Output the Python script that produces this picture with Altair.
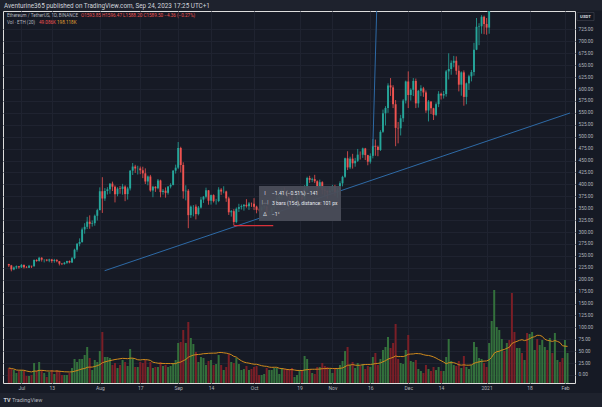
import altair as alt
import pandas as pd

# ---------------- data (ETH/USDT daily) ----------------
first_day = -5  # first candle = 2020-06-26, days counted from 2020-07-01

opens = [
    232.8, 229.9, 221.5, 225.6, 228.2,
    225.9, 231.0, 226.0, 225.2, 229.1, 227.9, 241.4, 239.2, 246.0, 241.9, 242.1, 240.1, 242.4, 239.2, 241.1, 238.7,
    233.6, 232.6, 235.6, 239.2, 236.2, 245.0, 262.8, 275.2, 279.1, 305.4, 310.9, 321.7, 317.1, 318.5, 334.0,
    345.9, 385.5, 370.3, 386.1, 389.6, 401.5, 395.1, 379.3, 391.1, 390.4, 395.3, 379.5, 391.4, 428.6, 437.3, 433.3,
    433.4, 429.5, 423.1, 406.0, 416.5, 387.1, 395.0, 391.7, 408.1, 383.7, 386.6, 382.2, 395.4, 398.8, 428.7,
    435.0, 476.3, 440.6, 385.5, 386.6, 335.4, 353.2, 353.3, 337.6, 351.3, 368.0, 374.2, 387.4, 365.6, 377.3,
    364.8, 365.0, 389.0, 384.9, 385.0, 370.5, 341.4, 343.7, 321.1, 348.6, 352.2, 354.1, 357.0, 354.1, 359.8,
    359.5, 353.2, 346.4, 346.2, 352.0, 353.6, 340.8, 341.6, 350.6, 365.1, 370.5, 375.0, 387.2, 381.2, 379.4, 377.2,
    366.2, 368.5, 377.0, 378.9, 368.2, 392.1, 413.4, 409.5, 411.0, 406.5, 393.0, 404.5, 388.6, 386.5, 383.0,
    386.6, 396.6, 383.2, 387.6, 402.1, 415.7, 454.6, 435.5, 453.9, 444.2, 449.4, 462.3, 462.1, 475.3, 461.3,
    447.5, 459.8, 480.9, 478.8, 472.1, 510.1, 549.1, 560.3, 607.6, 603.4, 568.1, 518.5, 517.6, 538.6, 575.8,
    615.8, 587.4, 598.4, 617.0, 569.9, 596.3, 601.3, 592.8, 555.0, 573.7, 559.6, 545.8, 568.2, 590.0, 586.4, 589.4,
    637.0, 642.0, 655.0, 659.3, 638.3, 609.1, 634.9, 583.5, 611.9, 626.6, 635.6, 682.6, 730.6, 731.6, 751.6,
    736.4, 728.9, 774.6, 978.3, 1041.4, 1099.6, 1208.1, 1225.7, 1224.9, 1281.6, 1262.5, 1090.1, 1043.4, 1130.7,
    1218.2, 1171.3, 1233.5, 1230.2, 1257.2, 1377.0, 1382.5, 1121.0, 1233.4, 1234.6, 1391.9, 1324.4, 1357.1,
    1253.2, 1332.5, 1382.3, 1376.1,
    1314.9, 1369.0,
]
highs = [
    233.2, 231.0, 227.6, 229.8, 228.9,
    232.8, 232.1, 228.4, 231.0, 229.3, 242.5, 242.9, 247.9, 247.1, 242.9, 242.8, 243.9, 243.6, 243.6, 243.2, 238.8,
    235.1, 237.3, 239.8, 240.4, 247.4, 265.0, 277.0, 286.7, 309.4, 318.5, 331.8, 334.9, 324.2, 336.6, 348.7,
    393.7, 415.0, 392.2, 394.1, 402.3, 405.7, 397.7, 394.0, 396.5, 401.0, 398.0, 394.8, 430.0, 444.8, 441.0, 439.0,
    437.4, 437.0, 433.5, 418.5, 419.9, 397.0, 396.0, 411.2, 409.7, 390.3, 393.5, 396.3, 402.4, 430.0, 441.3,
    488.8, 478.9, 446.2, 398.0, 390.0, 355.6, 356.5, 357.8, 354.5, 373.4, 375.5, 393.0, 388.0, 378.5, 379.0,
    369.6, 394.0, 392.1, 396.0, 386.6, 373.9, 346.2, 348.0, 351.5, 359.2, 357.7, 358.8, 368.9, 362.8, 361.8,
    371.0, 355.2, 349.0, 354.0, 356.3, 355.0, 344.0, 352.1, 368.0, 378.4, 377.7, 391.0, 393.7, 385.9, 383.0, 380.0,
    370.8, 380.0, 384.6, 381.2, 398.2, 416.0, 418.0, 414.0, 420.0, 408.4, 409.9, 406.5, 393.0, 387.0, 395.0,
    399.0, 399.0, 392.2, 406.5, 418.0, 456.0, 469.5, 458.0, 464.0, 455.6, 474.3, 469.0, 477.0, 476.5, 462.0,
    465.0, 495.0, 494.0, 481.5, 513.5, 556.9, 564.0, 612.0, 623.0, 608.0, 576.9, 530.8, 545.9, 578.8, 617.7,
    637.0, 601.5, 623.0, 622.0, 598.0, 608.0, 604.5, 597.0, 576.9, 574.0, 560.6, 572.0, 595.5, 592.5, 596.0, 640.0,
    675.0, 660.0, 669.5, 668.5, 649.5, 637.0, 639.0, 613.5, 630.0, 640.0, 697.0, 749.0, 738.0, 755.0, 754.0,
    749.0, 787.0, 1011.0, 1162.0, 1130.0, 1210.0, 1280.0, 1250.0, 1300.0, 1348.0, 1270.0, 1150.0, 1135.0, 1245.0,
    1250.0, 1265.0, 1260.0, 1268.0, 1410.0, 1440.0, 1383.0, 1253.0, 1260.0, 1400.0, 1466.0, 1377.0, 1362.0,
    1340.0, 1435.0, 1385.0, 1386.0,
    1380.0, 1540.0,
]
lows = [
    226.5, 217.5, 219.8, 222.1, 223.0,
    224.4, 223.4, 224.2, 224.4, 224.4, 227.4, 237.5, 237.7, 237.9, 236.1, 238.5, 236.6, 235.4, 235.6, 236.4, 229.8,
    230.6, 231.5, 233.2, 234.3, 235.1, 243.0, 258.6, 270.0, 277.4, 296.5, 306.2, 306.8, 311.4, 313.2, 324.1,
    345.5, 340.0, 365.3, 378.7, 380.2, 386.0, 362.1, 375.0, 380.3, 378.4, 364.7, 368.0, 387.2, 419.6, 424.0, 420.6,
    421.3, 413.0, 400.6, 398.0, 384.5, 373.0, 384.2, 389.5, 372.8, 378.5, 372.1, 378.5, 391.5, 397.8, 422.6,
    432.0, 425.0, 370.0, 366.4, 308.0, 329.6, 332.8, 326.4, 335.0, 349.2, 361.0, 370.4, 357.3, 357.5, 362.0,
    357.5, 362.6, 377.8, 381.2, 363.3, 335.8, 332.3, 314.2, 318.5, 342.0, 347.1, 344.8, 351.2, 346.3, 352.7,
    346.0, 339.2, 343.4, 343.9, 347.4, 336.2, 336.0, 334.9, 346.6, 363.2, 367.3, 368.3, 375.0, 373.5, 370.0, 361.0,
    363.5, 367.0, 371.0, 362.0, 364.0, 386.5, 403.0, 404.5, 402.6, 378.3, 391.5, 379.0, 375.0, 370.0, 380.7,
    384.0, 376.0, 372.0, 378.0, 395.8, 413.5, 430.0, 432.0, 433.0, 437.0, 447.0, 452.0, 455.5, 451.0, 440.0,
    443.5, 454.5, 460.0, 459.0, 470.0, 508.0, 523.5, 550.0, 585.5, 560.0, 480.0, 486.0, 502.5, 531.0, 569.7,
    560.0, 575.7, 585.2, 560.0, 561.0, 585.0, 583.6, 550.0, 532.0, 547.5, 535.0, 543.0, 562.0, 578.0, 580.0, 584.0,
    620.0, 630.0, 645.6, 630.0, 595.0, 586.0, 565.0, 568.0, 598.0, 616.0, 628.0, 681.6, 692.0, 716.0, 715.0,
    714.0, 716.0, 770.0, 890.0, 1000.0, 1095.0, 1170.0, 1150.0, 1170.0, 1160.0, 915.0, 1010.0, 1030.0, 1125.0,
    1130.0, 1160.0, 1180.0, 1200.0, 1250.0, 1300.0, 1110.0, 1110.0, 1200.0, 1225.0, 1300.0, 1260.0, 1220.0,
    1250.0, 1300.0, 1330.0, 1290.0,
    1305.0, 1360.0,
]
closes = [
    229.9, 221.5, 225.6, 228.2, 225.9,
    231.0, 226.0, 225.2, 229.1, 227.9, 241.4, 239.2, 246.0, 241.9, 242.1, 240.1, 242.4, 239.2, 241.1, 238.7,
    233.6, 232.6, 235.6, 239.2, 236.2, 245.0, 262.8, 275.2, 279.1, 305.4, 310.9, 321.7, 317.1, 318.5, 334.0, 345.9,
    385.5, 370.3, 386.1, 389.6, 401.5, 395.1, 379.3, 391.1, 390.4, 395.3, 379.5, 391.4, 428.6, 437.3, 433.3,
    433.4, 429.5, 423.1, 406.0, 416.5, 387.1, 395.0, 391.7, 408.1, 383.7, 386.6, 382.2, 395.4, 398.8, 428.7, 435.0,
    476.3, 440.6, 385.5, 386.6, 335.4, 353.2, 353.3, 337.6, 351.3, 368.0, 374.2, 387.4, 365.6, 377.3, 364.8,
    365.0, 389.0, 384.9, 385.0, 370.5, 341.4, 343.7, 321.1, 348.6, 352.2, 354.1, 357.0, 354.1, 359.8, 359.5,
    353.2, 346.4, 346.2, 352.0, 353.6, 340.8, 341.6, 350.6, 365.1, 370.5, 375.0, 387.2, 381.2, 379.4, 377.2,
    366.2, 368.5, 377.0, 378.9, 368.2, 392.1, 413.4, 409.5, 411.0, 406.5, 393.0, 404.5, 388.6, 386.5, 383.0, 386.6,
    396.6, 383.2, 387.6, 402.1, 415.7, 454.6, 435.5, 453.9, 444.2, 449.4, 462.3, 462.1, 475.3, 461.3, 447.5,
    459.8, 480.9, 478.8, 472.1, 510.1, 549.1, 560.3, 607.6, 603.4, 568.1, 518.5, 517.6, 538.6, 575.8, 615.8,
    587.4, 598.4, 617.0, 569.9, 596.3, 601.3, 592.8, 555.0, 573.7, 559.6, 545.8, 568.2, 590.0, 586.4, 589.4,
    637.0, 642.0, 655.0, 659.3, 638.3, 609.1, 634.9, 583.5, 611.9, 626.6, 635.6, 682.6, 730.6, 731.6, 751.6, 736.4,
    728.9, 774.6, 978.3, 1041.4, 1099.6, 1208.1, 1225.7, 1224.9, 1281.6, 1262.5, 1090.1, 1043.4, 1130.7, 1218.2,
    1171.3, 1233.5, 1230.2, 1257.2, 1377.0, 1382.5, 1121.0, 1233.4, 1234.6, 1391.9, 1324.4, 1357.1, 1253.2,
    1332.5, 1382.3, 1376.1, 1314.9,
    1369.0, 1515.9,
]
volumes = [
    15, 14, 13, 10, 12,
    13, 12, 7, 7, 8, 20, 12, 21, 13, 10, 6, 11, 13, 9, 13, 12, 8, 8, 8, 10, 15, 24, 21, 24, 24, 28, 36, 25, 13, 23, 21,
    32, 51, 26, 26, 25, 18, 20, 15, 18, 23, 21, 17, 34, 25, 16, 16, 21, 20, 23, 16, 21, 15, 16, 16, 21, 17, 18, 16, 17, 20, 23,
    40, 41, 53, 40, 61, 45, 39, 31, 21, 26, 25, 18, 22, 23, 18, 19, 28, 18, 13, 16, 29, 21, 20, 25, 19, 13, 14, 17, 13, 14,
    16, 17, 8, 8, 9, 15, 13, 13, 15, 15, 9, 15, 14, 14, 14, 15, 6, 8, 13, 12, 27, 24, 14, 10, 9, 16, 16, 20, 17, 16, 14,
    10, 14, 15, 18, 22, 32, 36, 18, 21, 15, 20, 17, 19, 14, 17, 16, 26, 30, 18, 24, 33, 36, 46, 35, 40, 59, 24, 20, 19, 33,
    48, 22, 21, 23, 14, 12, 10, 18, 14, 12, 16, 13, 16, 12, 12, 26, 44, 22, 18, 17, 22, 15, 27, 16, 14, 18, 41, 36, 25, 24, 20,
    16, 40, 62, 93, 56, 53, 44, 32, 40, 43, 90, 51, 35, 35, 30, 23, 50, 49, 51, 33, 44, 38, 43, 36, 33, 45, 30, 50, 23, 21, 25,
    43, 30,
]
assert len(opens) == len(highs) == len(lows) == len(closes) == len(volumes) == 222

tick_days = [0, 12, 31, 47, 62, 75, 92, 110, 123, 138, 153, 166, 184, 201, 215]
tick_labels = ["Jul", "13", "Aug", "17", "Sep", "14", "Oct", "19", "Nov", "16", "Dec", "14", "2021", "18", "Feb"]
price_ticks = list(range(0, 726, 25))

trend_days = [32.9, 216.98]
trend_prices = [218.8, 549.7]
steep_days = [139.0, 140.65]
steep_prices = [479.0, 790.0]
level_days = [84.0, 99.6]
level_prices = [313.3, 313.3]

# ---------------- build ----------------
FONT = "Roboto"
PANE = "#161a25"
FRAME = "#1e222d"
GRID = "#1f2330"
TXT = "#b2b5be"

df = pd.DataFrame({
    "d": list(range(first_day, first_day + len(closes))),
    "open": opens, "high": highs, "low": lows, "close": closes, "volume": volumes,
})
df["dir"] = ["up" if c >= o else "down" for o, c in zip(opens, closes)]

x_scale = alt.Scale(domain=[-5.32, 216.98], nice=False, zero=False)
price_scale = alt.Scale(domain=[-16.8, 763.7], nice=False, zero=False)
vol_scale = alt.Scale(domain=[0, 372], nice=False, zero=True)

label_expr = " : ".join(f"datum.value == {v} ? '{l}'" for v, l in zip(tick_days, tick_labels)) + " : ''"
x_axis = alt.Axis(values=tick_days, labelExpr=label_expr, title=None, domain=False, ticks=False,
                  labelPadding=2.5, labelFontSize=5, labelColor=TXT, labelFont=FONT,
                  grid=True, gridColor=GRID, gridWidth=1, labelFlush=False, labelOverlap=False)
X = alt.X("d:Q", scale=x_scale, axis=x_axis)

y_axis = alt.Axis(orient="right", values=price_ticks, format=".2f", title=None, domain=False, ticks=False,
                  labelPadding=3, labelAlign="left", labelFontSize=4.8, labelColor=TXT, labelFont=FONT,
                  grid=True, gridColor=GRID, gridWidth=1, labelOverlap=False)

candle_color = alt.Color("dir:N", scale=alt.Scale(domain=["up", "down"], range=["#26a69a", "#ef5350"]), legend=None)
vol_color = alt.Color("dir:N", scale=alt.Scale(domain=["up", "down"], range=["#33703c", "#7a1f27"]), legend=None)

base = alt.Chart(df)

vol = base.mark_bar(size=2.0).encode(
    x=X, y=alt.Y("volume:Q", scale=vol_scale, axis=None), color=vol_color)
ma = base.transform_window(
    ma="mean(volume)", frame=[-19, 0], sort=[alt.SortField("d")]
).mark_line(color="#d08a1c", strokeWidth=1).encode(
    x=X, y=alt.Y("ma:Q", scale=vol_scale, axis=None))
wick = base.mark_rule(clip=True, strokeWidth=0.8).encode(
    x=X, y=alt.Y("low:Q", scale=price_scale, axis=y_axis), y2="high:Q", color=candle_color)
body = base.mark_bar(size=1.9, clip=True).encode(
    x=X, y=alt.Y("open:Q", scale=price_scale, axis=None), y2="close:Q", color=candle_color)


def line_layer(days, prices, color, width):
    return alt.Chart(pd.DataFrame({"d": days, "p": prices})).mark_line(
        clip=True, color=color, strokeWidth=width).encode(
        x=X, y=alt.Y("p:Q", scale=price_scale, axis=None))


trend = line_layer(trend_days, trend_prices, "#2e6aa6", 1)
steep = line_layer(steep_days, steep_prices, "#2e6aa6", 1)
level = line_layer(level_days, level_prices, "#d8313a", 1.3)

one = pd.DataFrame({"k": [0]})


def box(x, x2, y, y2, fill, opacity=1.0, stroke=None):
    kw = dict(fill=fill, opacity=opacity)
    if stroke:
        kw.update(stroke=stroke, strokeWidth=0.6)
    return alt.Chart(one).mark_rect(**kw).encode(
        x=alt.value(x), x2=alt.value(x2), y=alt.value(y), y2=alt.value(y2))


def label(txt, x, y, color, size, align="left", weight="normal"):
    return alt.Chart(pd.DataFrame({"t": [txt]})).mark_text(
        align=align, baseline="middle", fontSize=size, color=color, font=FONT, fontWeight=weight
    ).encode(x=alt.value(x), y=alt.value(y), text="t:N")


header_bg = box(-3, 599, -11, -0.5, FRAME)
footer_bg = box(-3, 599, 382, 396, FRAME)
measure_bg = box(256, 338, 175, 210, "#4a4d58", 0.95)
usdt_bg = box(574, 591, 1.5, 9.5, "#131722", 1.0, "#434651")

texts = [
    label("Aventurine365 published on TradingView.com, Sep 24, 2023 17:25 UTC+1", 1, -5.5, "#d1d4dc", 6.35),
    label("Ethereum / TetherUS, 1D, BINANCE", 4, 4.7, TXT, 4.6),
    label("O1593.85  H1596.47  L1588.20  C1589.50  −4.36 (−0.27%)", 78, 4.7, "#ef5350", 4.6),
    label("Vol · ETH (20)", 4, 11.7, TXT, 4.6),
    label("49.086K", 36, 11.7, "#ef5350", 4.6),
    label("198.118K", 54, 11.7, "#e0a030", 4.6),
    label("USDT", 582.5, 5.5, "#d1d4dc", 4.3, align="center", weight="bold"),
    label("I", 262, 181.5, "#d1d4dc", 5.5, align="center"),
    label("−1.41 (−0.51%) −141", 269, 181.5, "#e6e8ee", 5),
    label("|↔|", 262, 192, "#d1d4dc", 4.5, align="center"),
    label("3 bars (15d), distance: 101 px", 269, 192, "#e6e8ee", 5),
    label("∆", 262, 202.5, "#d1d4dc", 5.5, align="center"),
    label("−1°", 269, 202.5, "#e6e8ee", 5),
    label("TV", 0.5, 389, "#d1d4dc", 5.5, weight="bold"),
    label("TradingView", 9, 389, "#b2b5be", 5.5),
]

chart = alt.layer(
    header_bg, footer_bg, vol, ma, wick, body, trend, steep, level, measure_bg, usdt_bg, *texts
).resolve_scale(
    y="independent", color="independent"
).properties(
    width=572, height=372,
    padding={"left": 3, "top": 11, "right": 27, "bottom": 24},
    autosize=alt.AutoSizeParams(type="none"),
    background=PANE,
).configure_view(
    stroke="#2a2e39", strokeWidth=1
).configure(font=FONT)

chart.save("out.html", embed_options={"renderer": "svg", "actions": False})
